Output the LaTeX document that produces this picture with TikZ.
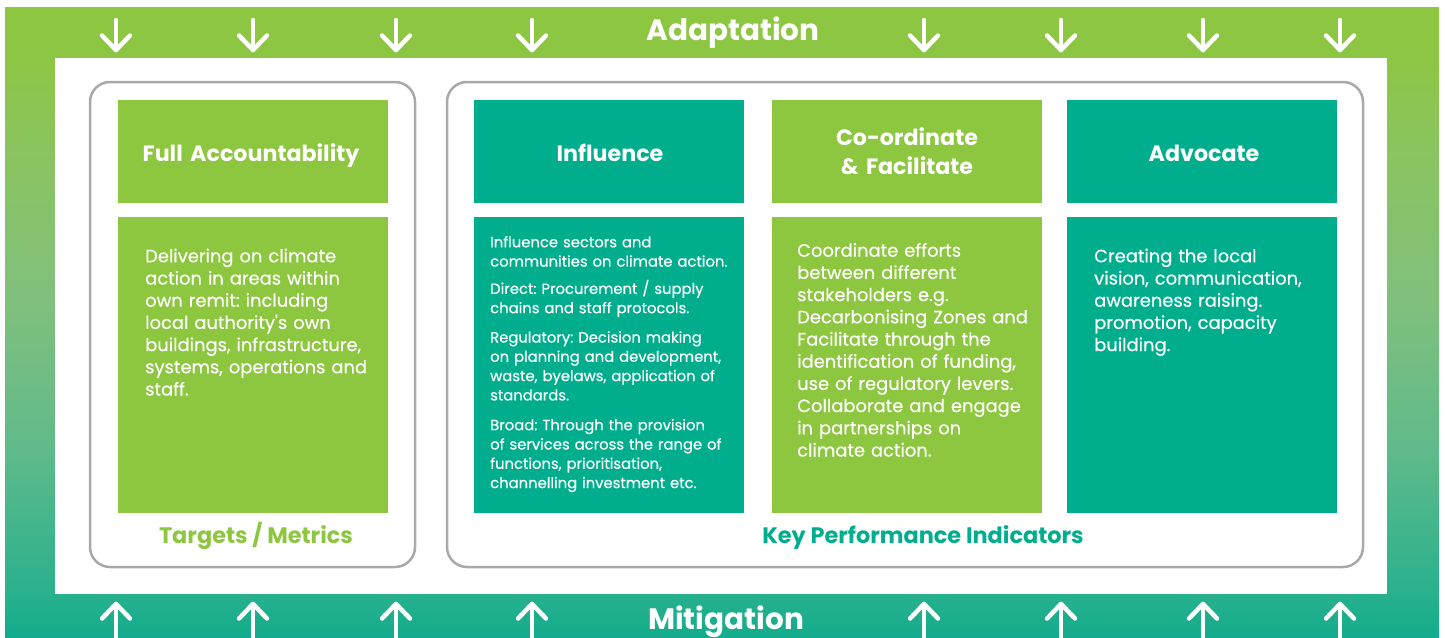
\documentclass[tikz,border=0pt]{standalone}
\usepackage{fontspec}
\setmainfont{Poppins}
\newfontfamily\medfont{Poppins}[FakeBold=0.35]
\frenchspacing
\definecolor{lgreen}{RGB}{141,198,63}
\definecolor{tealc}{RGB}{0,174,142}
\definecolor{grayline}{RGB}{167,169,172}
\definecolor{sa}{RGB}{18,172,140}
\definecolor{sb}{RGB}{42,177,141}
\definecolor{sc}{RGB}{95,186,138}
\definecolor{sd}{RGB}{128,192,125}
\definecolor{se}{RGB}{139,196,95}
\definecolor{sf}{RGB}{141,198,68}
\definecolor{sg}{RGB}{141,198,63}
\pgfdeclareverticalshading{frameshade}{100bp}{color(0bp)=(sa); color(25bp)=(sa); color(28.7bp)=(sb); color(39.8bp)=(sc); color(51.7bp)=(sd); color(63.7bp)=(se); color(70.9bp)=(sf); color(75bp)=(sg); color(100bp)=(sg)}
\newcommand\bigfont{\fontsize{29.5}{34}\bfseries\selectfont}
\newcommand\headfont{\fontsize{22.2}{29}\bfseries\selectfont}
\newcommand\labfont{\fontsize{22.4}{26}\bfseries\selectfont}
\newcommand\bodyfont{\medfont\fontsize{17.9}{22.2}\selectfont\frenchspacing}
\newcommand\inflfont{\medfont\fontsize{14.8}{19.3}\selectfont\frenchspacing}
\tikzset{
  flowarrow/.style={white, line width=4.5, line cap=round, line join=round},
  groupbox/.style={draw=grayline, line width=2.5, rounded corners=20},
  headbox/.style={minimum width=270, minimum height=103, inner sep=0},
  headtext/.style={anchor=base, inner sep=0, text=white, font=\headfont, align=center, text width=260},
  bodybox/.style={minimum width=270, minimum height=296, inner sep=0},
  bodytext/.style={anchor=base west, inner sep=0, text=white, align=left},
}
\begin{document}
\begin{tikzpicture}[x=1pt,y=-1pt]
\useasboundingbox (0,0) rectangle (1445,637);
% outer gradient frame
\shade[shading=frameshade] (5,7) rectangle (1439,637);
\fill[white] (55,58) rectangle (1387,594);
% arrows
\foreach \x in {116,253,396,532,924,1061,1203,1340}{
  \draw[flowarrow] (\x,20) -- (\x,50);
  \draw[flowarrow] (\x-14,35.5) -- (\x,50) -- (\x+14,35.5);
  \draw[flowarrow] (\x,604) -- (\x,645);
  \draw[flowarrow] (\x-14,618.5) -- (\x,604) -- (\x+14,618.5);
}
\node[anchor=base, inner sep=0, text=white, font=\bigfont] (adapt) at (733,40) {Adaptation};
\node[anchor=base, inner sep=0, text=white, font=\bigfont] (mitig) at (726,629) {Mitigation};
% group boxes
\draw[groupbox] (90,82) rectangle (415,567);
\draw[groupbox] (447,82) rectangle (1363,567);
% headers
\node[headbox, fill=lgreen] (fullhead) at (253,151.5) {};
\node[headbox, fill=tealc] (inflhead) at (609,151.5) {};
\node[headbox, fill=lgreen] (coorhead) at (907,151.5) {};
\node[headbox, fill=tealc] (advhead) at (1202,151.5) {};
\node[headtext] (fullht) at (251,161) {Full Accountability};
\node[headtext] (inflht) at (610,161) {Influence};
\node[headtext] (coorht) at (907,145) {Co-ordinate\\\& Facilitate};
\node[headtext] (advht) at (1204,161) {Advocate};
% bodies
\node[bodybox, fill=lgreen] (fullbody) at (253,365) {};
\node[bodybox, fill=tealc] (inflbody) at (609,365) {};
\node[bodybox, fill=lgreen] (coorbody) at (907,365) {};
\node[bodybox, fill=tealc] (advbody) at (1202,365) {};
\node[bodytext, font=\bodyfont, text width=240] (fulltext) at (145,262.3) {Delivering on climate\\action in areas within\\own remit: including\\local authority{\char"27}s own\\buildings, infrastructure,\\systems, operations and\\staff.};
\node[bodytext, font=\inflfont, text width=250] (infltext) at (490,247.3) {Influence sectors and\\communities on climate action.\\[8pt]Direct: Procurement / supply\\chains and staff protocols.\\[10pt]Regulatory: Decision making\\on planning and development,\\waste, byelaws, application of\\standards.\\[10.5pt]Broad: Through the provision\\of services across the range of\\functions, prioritisation,\\channelling investment etc.};
\node[bodytext, font=\bodyfont, text width=240] (coortext) at (797,256.7) {Coordinate efforts\\between different\\stakeholders e.g.\\Decarbonising Zones and\\Facilitate through the\\identification of funding,\\use of regulatory levers.\\Collaborate and engage\\in partnerships on\\climate action.};
\node[bodytext, font=\bodyfont, text width=240] (advtext) at (1094,262.3) {Creating the local\\vision, communication,\\awareness raising.\\promotion, capacity\\building.};
% footer labels
\node[anchor=base, inner sep=0, text=lgreen, font=\labfont] (targets) at (256,543) {Targets / Metrics};
\node[anchor=base, inner sep=0, text=tealc, font=\labfont] (kpi) at (923,543) {Key Performance Indicators};
\end{tikzpicture}
\end{document}
